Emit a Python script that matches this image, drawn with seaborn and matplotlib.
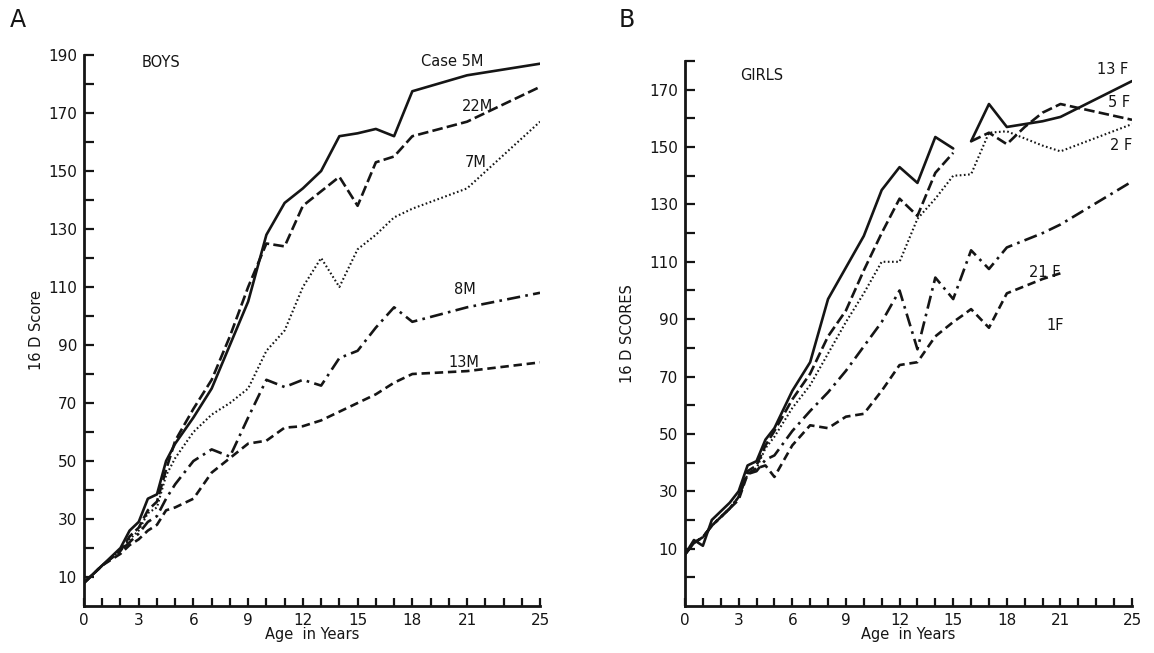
import numpy as np
import pandas as pd
import matplotlib
matplotlib.use("Agg")
import matplotlib.pyplot as plt
import seaborn as sns
from matplotlib.ticker import MultipleLocator, FixedLocator

# ---------------- data ----------------
boys_age = [0, 1, 2, 2.5, 3, 3.5, 4, 4.5, 5, 6, 7, 8, 9, 10, 11, 12, 13, 14, 15, 16, 17, 18, 21, 25]
boys_5M  = [8, 14, 20, 26, 29, 37, 38.5, 50, 56, 65, 75, 90, 105, 128, 139, 144, 150, 162, 163, 164.5, 162, 177.5, 183, 187]
boys_22M = [8, 14, 19, 24, 27, 33, 36, 47, 57, 68, 78, 93, 110, 125, 124, 138, 143, 148, 138, 153, 155, 162, 167, 179]
boys_7M  = [8, 14, 19, 23, 26, 32, 34, 45, 51, 60, 66, 70, 75, 88, 95, 110, 120, 110, 123, 128, 134, 137, 144, 167]
boys_8M  = [8, 14, 19, 22, 25, 29, 31, 37, 42, 50, 54, 51.5, 65, 78, 75.5, 78, 76, 85.5, 88, 96, 103, 98, 103, 108]
boys_13M = [8, 14, 18, 21, 23, 26, 28, 33, 34, 37, 46, 51, 56, 57, 61.5, 62, 64, 67, 70, 73, 77, 80, 81, 84]

girls_age = [0, 0.5, 1, 1.5, 2, 2.5, 3, 3.5, 4, 4.5, 5, 6, 7, 8, 9, 10, 11, 12, 13, 14, 15, 15.5, 16, 17, 18, 19, 20, 21, 25]
girls_13F = [8, 13, 11, 20, 23, 26, 30, 39, 40.5, 48, 52, 65, 75, 97, 108, 119, 135, 143, 137.5, 153.5, 149.5, np.nan, 152, 165, 157, 158, 159, 160.5, 173]
girls_5F  = [8, 12, 14, 18, 21, 24, 28, 37, 39, 46, 51, 62, 71, 84, 93, 107, 120, 132, 126, 141, 148, np.nan, 152, 155, 151, 157, 162, 165, 159.5]
girls_2F  = [8, 12, 14, 18, 21, 24, 28, 36, 38, 45, 49, 59, 67, 78, 89, 99, 110, 110, 125, 132, 140, 140.2, 140.5, 155, 155.5, 153, 150.5, 148.5, 158]
girls_21F = [8, 12, 14, 18, 21, 24, 28, 36, 37, 41, 42.5, 51, 58, 64.5, 72, 80.5, 89, 100, 79.5, 104.5, 97, 105.5, 114, 107.5, 115, 117.5, 120, 123, 138]
girls_1F  = [8, 12, 14, 18, 21, 24, 27, 36, 38, 39, 35, 46, 53, 52, 56, 57, 65, 74, 75, 84, 89, 91.2, 93.5, 87, 99, 101.5, 104, 106, np.nan]

boys_names = ["Case 5M", "22M", "7M", "8M", "13M"]
girls_names = ["13 F", "5 F", "2 F", "21 F", "1F"]

# ---------------- styles ----------------
ink = "#151515"
styles = {
    "solid":   dict(linestyle="-", lw=1.9),
    "dashed":  dict(linestyle=(0, (4.0, 1.6)), lw=1.9),
    "dotted":  dict(linestyle=(0, (0.8, 1.2)), lw=1.5),
    "dashdot": dict(linestyle=(0, (5.0, 2.0, 1.0, 2.0)), lw=1.9),
    "dash2":   dict(linestyle=(0, (3.2, 1.8)), lw=1.9),
}

sns.set_theme(style="ticks")
plt.rcParams["font.family"] = ["DejaVu Sans"]

fig = plt.figure(figsize=(11.54, 6.53), dpi=100)
axA = fig.add_axes([84/1154, 1-606/653, 456/1154, (606-55)/653])
axB = fig.add_axes([685/1154, 1-606/653, 447/1154, (606-61)/653])


def draw(ax, ages, vals, style):
    df = pd.DataFrame({"age": ages, "score": vals})
    df["seg"] = df["score"].isna().cumsum()
    df = df.dropna()
    for _, g in df.groupby("seg"):
        sns.lineplot(data=g, x="age", y="score", ax=ax, color=ink,
                     estimator=None, sort=False, **style)


boys_series = [boys_5M, boys_22M, boys_7M, boys_8M, boys_13M]
line_styles = ["solid", "dashed", "dotted", "dashdot", "dash2"]
for v, s in zip(boys_series, line_styles):
    draw(axA, boys_age, v, styles[s])

girls_series = [girls_13F, girls_5F, girls_2F, girls_21F, girls_1F]
for v, s in zip(girls_series, line_styles):
    draw(axB, girls_age, v, styles[s])

# ---------------- axes ----------------
for ax in (axA, axB):
    ax.set_xlim(0, 25)
    ax.xaxis.set_major_locator(FixedLocator([0, 3, 6, 9, 12, 15, 18, 21, 25]))
    ax.xaxis.set_minor_locator(MultipleLocator(1))
    for sp in ("top", "right"):
        ax.spines[sp].set_visible(False)
    for sp in ("left", "bottom"):
        ax.spines[sp].set_color(ink)
        ax.spines[sp].set_linewidth(2.0)
    ax.tick_params(axis="both", which="both", direction="in", color=ink,
                   width=1.6, labelsize=11, labelcolor=ink,
                   bottom=True, left=True, top=False, right=False)
    ax.tick_params(axis="x", which="both", length=6, pad=5)
    ax.tick_params(axis="y", which="both", length=7, pad=5)
    ax.set_xlabel("Age  in Years", fontsize=10.5, color=ink, labelpad=-1)
    ax.grid(False)
    ax.set_facecolor("white")

axA.set_ylim(0, 190)
axA.yaxis.set_major_locator(FixedLocator(list(range(10, 191, 20))))
axA.yaxis.set_minor_locator(FixedLocator(list(range(20, 190, 20))))
axA.set_ylabel("16 D Score", fontsize=10.5, color=ink, labelpad=3)

axB.set_ylim(-10, 180)
axB.yaxis.set_major_locator(FixedLocator(list(range(10, 171, 20))))
axB.yaxis.set_minor_locator(FixedLocator(list(range(0, 181, 20))))
axB.set_ylabel("16 D SCORES", fontsize=10.5, color=ink, labelpad=10)

# ---------------- annotations ----------------
txt = dict(color=ink, fontsize=10.5, ha="center", va="center")
axA.text(4.2, 187.5, "BOYS", **txt)
boys_lab_pos = [(20.2, 187.6), (21.6, 172.4), (21.5, 153), (20.9, 109), (20.8, 83.8)]
for n, (x, y) in zip(boys_names, boys_lab_pos):
    axA.text(x, y, n, **txt)

axB.text(4.3, 175, "GIRLS", **txt)
girls_lab_pos = [(23.9, 177), (24.3, 165.5), (24.4, 150.4), (20.1, 106.4), (20.7, 87.9)]
for n, (x, y) in zip(girls_names, girls_lab_pos):
    axB.text(x, y, n, **txt)

fig.text(18/1154, 1-20/653, "A", fontsize=17, color=ink, ha="center", va="center")
fig.text(627/1154, 1-20/653, "B", fontsize=17, color=ink, ha="center", va="center")

fig.savefig("out.png", dpi=100, facecolor="white")
